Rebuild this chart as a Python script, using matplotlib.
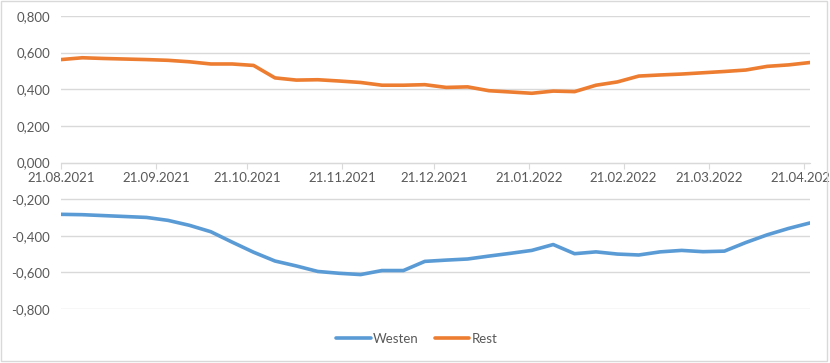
import matplotlib.pyplot as plt
import matplotlib.dates as mdates
from matplotlib.ticker import FuncFormatter, FixedLocator
from matplotlib.patches import Rectangle
import pandas as pd

# weekly dates, 21.08.2021 .. 23.04.2022
dates = pd.date_range("2021-08-21", periods=36, freq="7D")

westen = [-0.283, -0.285, -0.290, -0.295, -0.300, -0.316, -0.343, -0.378, -0.435,
          -0.490, -0.538, -0.565, -0.595, -0.605, -0.612, -0.590, -0.590, -0.540,
          -0.533, -0.527, -0.511, -0.496, -0.480, -0.448, -0.498, -0.488, -0.500,
          -0.505, -0.488, -0.480, -0.487, -0.484, -0.437, -0.395, -0.360, -0.330]
rest = [0.562, 0.572, 0.568, 0.565, 0.562, 0.558, 0.550, 0.538, 0.538,
        0.530, 0.462, 0.450, 0.452, 0.445, 0.437, 0.422, 0.422, 0.425,
        0.410, 0.413, 0.392, 0.385, 0.378, 0.390, 0.387, 0.422, 0.440,
        0.472, 0.478, 0.483, 0.490, 0.497, 0.505, 0.525, 0.533, 0.546]

tick_dates = pd.to_datetime(["2021-08-21", "2021-09-21", "2021-10-21", "2021-11-21",
                             "2021-12-21", "2022-01-21", "2022-02-21", "2022-03-21",
                             "2022-04-21"])

plt.rcParams['font.family'] = ['Lato', 'DejaVu Sans']
txt = '#595959'
grid = '#D9D9D9'

fig = plt.figure(figsize=(8.3, 3.63), dpi=100)
ax = fig.add_axes([61 / 830, 1 - 309 / 363, (810 - 61) / 830, (309 - 16) / 363])

ax.plot(dates, westen, color='#5B9BD5', lw=2.6, label='Westen', solid_capstyle='round')
ax.plot(dates, rest, color='#ED7D31', lw=2.6, label='Rest', solid_capstyle='round')

ax.set_ylim(-0.8, 0.8)
ax.set_xlim(dates[0], dates[-1])
ax.set_yticks([-0.8, -0.6, -0.4, -0.2, 0.0, 0.2, 0.4, 0.6, 0.8])
ax.yaxis.set_major_formatter(FuncFormatter(lambda v, p: f"{v:.3f}".replace('.', ',')))
ax.xaxis.set_major_locator(FixedLocator(mdates.date2num(tick_dates)))
ax.xaxis.set_major_formatter(mdates.DateFormatter('%d.%m.%Y'))

ax.grid(axis='y', color=grid, lw=1)
ax.set_axisbelow(True)
for s in ['top', 'right', 'left']:
    ax.spines[s].set_visible(False)
ax.spines['bottom'].set_position(('data', 0))
ax.spines['bottom'].set_color(grid)
ax.tick_params(axis='x', length=4, color=grid, labelcolor=txt, labelsize=9.5, pad=3)
ax.tick_params(axis='y', length=0, labelcolor=txt, labelsize=9.5, pad=8)
for lab in ax.get_xticklabels():
    lab.set_clip_on(False)

leg = fig.legend(loc='center', bbox_to_anchor=(417 / 830, 1 - 339 / 363), ncol=2,
                 frameon=False, fontsize=9.5, handlelength=2.6, columnspacing=1.2,
                 handletextpad=0.2)
for t in leg.get_texts():
    t.set_color(txt)

fig.patches.append(Rectangle((1 / 830, 2 / 363), 826 / 830, 360 / 363, transform=fig.transFigure,
                             fill=False, edgecolor=grid, lw=1))

fig.savefig('out.png', dpi=100)
